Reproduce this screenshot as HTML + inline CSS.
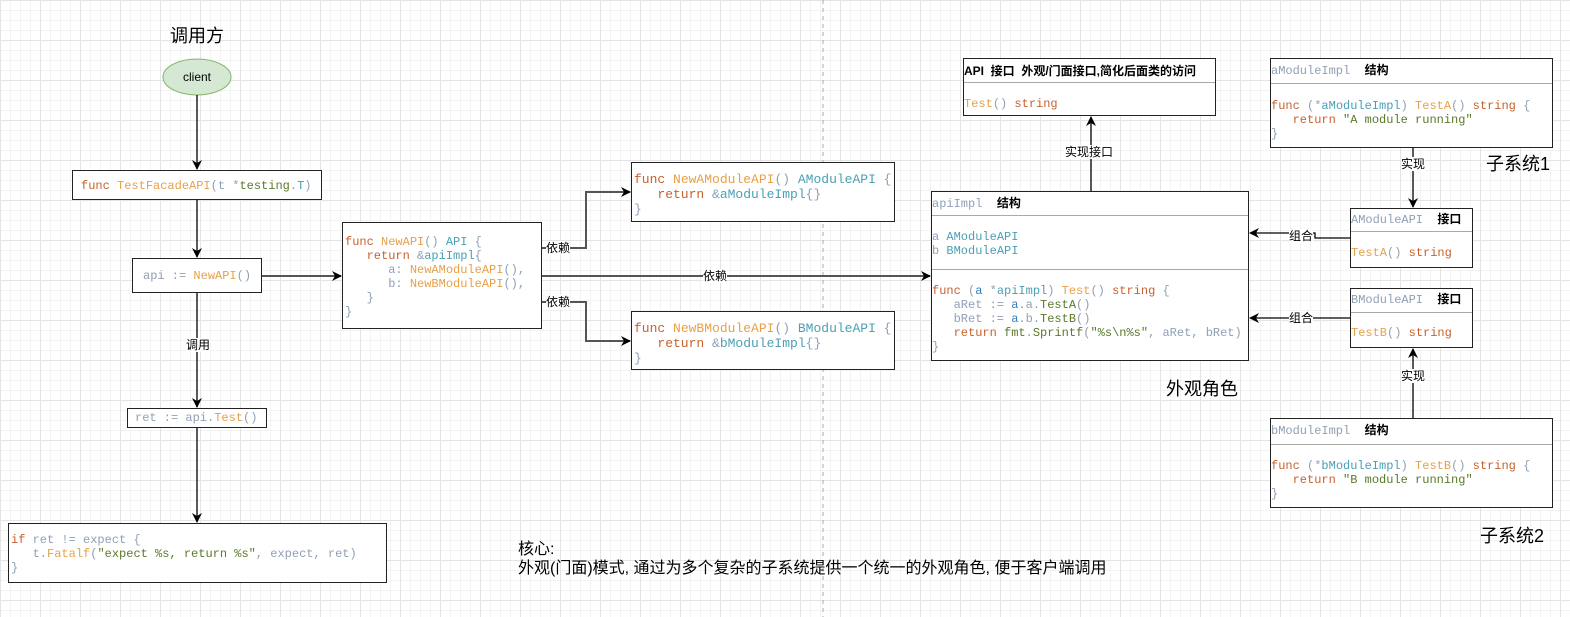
<!DOCTYPE html>
<html><head><meta charset="utf-8"><style>
body{margin:0;width:1570px;height:617px;overflow:hidden;background:#fff;
background-image:linear-gradient(#e4e4e4 1px,transparent 1px),linear-gradient(90deg,#e4e4e4 1px,transparent 1px),linear-gradient(#f3f3f3 1px,transparent 1px),linear-gradient(90deg,#f3f3f3 1px,transparent 1px);
background-size:40px 40px,40px 40px,10px 10px,10px 10px;font-family:"Liberation Sans","Noto Sans CJK SC",sans-serif;position:relative}
.b{position:absolute;border:1.5px solid #222;background:#fff;box-sizing:border-box}
.c{font-family:"Liberation Mono","Noto Sans CJK SC",monospace;font-size:12px;line-height:14px;white-space:pre;color:#8fa0b5}
.k{color:#c7612e}.f{color:#e8a048}.t{color:#4aa0b5}.s{color:#5a7a2a}.v{color:#8fa0b5}.bl{color:#2f7fc0}
.h{font-weight:bold;color:#000;font-family:"Liberation Sans","Noto Sans CJK SC",sans-serif;font-size:12px}
.sep{position:absolute;left:0;right:0;border-top:1.5px solid #aaa}
.l{position:absolute;font-size:12px;background:#fff;line-height:14px}
.big{position:absolute;font-size:18px}
</style></head><body>
<svg style="position:absolute;left:0;top:0" width="1570" height="617">
<defs><marker id="a" markerWidth="10" markerHeight="10" refX="9" refY="5" orient="auto" markerUnits="userSpaceOnUse"><path d="M0,0 L10,5 L0,10 L3,5z" fill="#000"/></marker></defs>
<line x1="823" y1="0" x2="823" y2="617" stroke="#aaa" stroke-dasharray="4,4"/>
<ellipse cx="197" cy="77" rx="34" ry="18" fill="#d5e8d4" stroke="#82b366"/>
<g stroke="#000" stroke-width="1.3" fill="none" marker-end="url(#a)">
<line x1="197" y1="95" x2="197" y2="169"/>
<line x1="197" y1="200" x2="197" y2="257"/>
<line x1="197" y1="293" x2="197" y2="407"/>
<line x1="197" y1="428" x2="197" y2="522"/>
<line x1="262" y1="276" x2="341" y2="276" stroke="#555" stroke-width="2"/>
<line x1="542" y1="276" x2="930" y2="276" stroke="#555" stroke-width="2"/>
<polyline points="542,248 586,248 586,192 630,192" stroke="#555" stroke-width="2"/>
<polyline points="542,302 586,302 586,341 630,341" stroke="#555" stroke-width="2"/>
<line x1="1091" y1="191" x2="1091" y2="117"/>
<line x1="1413" y1="148" x2="1413" y2="207"/>
<line x1="1413" y1="418" x2="1413" y2="349"/>
<polyline points="1353,238 1315,238 1315,233 1250,233"/>
<polyline points="1353,318 1250,318"/>
</g></svg>
<div class="big" style="left:170px;top:22px">调用方</div>
<div style="position:absolute;left:163px;top:70px;width:68px;text-align:center;font-size:12px">client</div>
<div class="b c" style="left:72px;top:170px;width:250px;height:30px;padding:8px 0 0 8px"><span class="k">func</span> <span class="f">TestFacadeAPI</span>(t *<span class="s">testing</span>.<span class="t">T</span>)</div>
<div class="b c" style="left:132px;top:258px;width:130px;height:35px;padding:10px 0 0 10px">api := <span class="f">NewAPI</span>()</div>
<div class="l" style="left:186px;top:338px">调用</div>
<div class="b c" style="left:127px;top:408px;width:140px;height:20px;padding:2px 0 0 7px">ret := api.<span class="f">Test</span>()</div>
<div class="b c" style="left:8px;top:523px;width:379px;height:60px;padding:9px 0 0 2px"><span class="k">if</span> ret != expect {
   t.<span class="f">Fatalf</span>(<span class="s">"expect %s, return %s"</span>, expect, ret)
}</div>
<div class="b c" style="left:342px;top:222px;width:200px;height:107px;padding:12px 0 0 2px"><span class="k">func</span> <span class="f">NewAPI</span>() <span class="t">API</span> {
   <span class="k">return</span> &amp;<span class="t">apiImpl</span>{
      a: <span class="f">NewAModuleAPI</span>(),
      b: <span class="f">NewBModuleAPI</span>(),
   }
}</div>
<div class="l" style="left:546px;top:241px">依赖</div>
<div class="l" style="left:546px;top:295px">依赖</div>
<div class="l" style="left:703px;top:269px">依赖</div>
<div class="b c" style="left:631px;top:162px;width:264px;height:60px;padding:9px 0 0 2px;font-size:13px;line-height:15px"><span class="k">func</span> <span class="f">NewAModuleAPI</span>() <span class="t">AModuleAPI</span> {
   <span class="k">return</span> &amp;<span class="t">aModuleImpl</span>{}
}</div>
<div class="b c" style="left:631px;top:311px;width:264px;height:59px;padding:9px 0 0 2px;font-size:13px;line-height:15px"><span class="k">func</span> <span class="f">NewBModuleAPI</span>() <span class="t">BModuleAPI</span> {
   <span class="k">return</span> &amp;<span class="t">bModuleImpl</span>{}
}</div>
<div class="b c" style="left:963px;top:58px;width:253px;height:58px"><div style="position:absolute;left:0;top:5px"><span class="h">API  接口  外观/门面接口,简化后面类的访问</span></div><div class="sep" style="top:23px"></div><div style="position:absolute;left:0;top:38px"><span class="f">Test</span>() <span class="k">string</span></div></div>
<div class="l" style="left:1065px;top:145px">实现接口</div>
<div class="b c" style="left:931px;top:191px;width:318px;height:170px"><div style="position:absolute;left:0;top:4px">apiImpl  <span class="h">结构</span></div><div class="sep" style="top:23px"></div><div style="position:absolute;left:0;top:38px">a <span class="t">AModuleAPI</span>
b <span class="t">BModuleAPI</span></div><div class="sep" style="top:77px"></div><div style="position:absolute;left:0;top:92px"><span class="k">func</span> (<span class="bl">a</span> *<span class="t">apiImpl</span>) <span class="f">Test</span>() <span class="k">string</span> {
   aRet := <span class="bl">a</span>.a.<span class="s">TestA</span>()
   bRet := <span class="bl">a</span>.b.<span class="s">TestB</span>()
   <span class="k">return</span> <span class="s">fmt</span>.<span class="s">Sprintf</span>(<span class="s">"%s\n%s"</span>, aRet, bRet)
}</div></div>
<div class="big" style="left:1166px;top:375px">外观角色</div>
<div class="b c" style="left:1270px;top:58px;width:283px;height:90px"><div style="position:absolute;left:0;top:4px">aModuleImpl  <span class="h">结构</span></div><div class="sep" style="top:24px"></div><div style="position:absolute;left:0;top:40px"><span class="k">func</span> (*<span class="t">aModuleImpl</span>) <span class="f">TestA</span>() <span class="k">string</span> {
   <span class="k">return</span> <span class="s">"A module running"</span>
}</div></div>
<div class="l" style="left:1401px;top:157px">实现</div>
<div class="big" style="left:1486px;top:150px">子系统1</div>
<div class="b c" style="left:1350px;top:208px;width:123px;height:60px"><div style="position:absolute;left:0;top:3px">AModuleAPI  <span class="h">接口</span></div><div class="sep" style="top:22px"></div><div style="position:absolute;left:0;top:37px"><span class="f">TestA</span>() <span class="k">string</span></div></div>
<div class="l" style="left:1289px;top:229px">组合</div>
<div class="b c" style="left:1350px;top:288px;width:123px;height:60px"><div style="position:absolute;left:0;top:3px">BModuleAPI  <span class="h">接口</span></div><div class="sep" style="top:23px"></div><div style="position:absolute;left:0;top:37px"><span class="f">TestB</span>() <span class="k">string</span></div></div>
<div class="l" style="left:1289px;top:311px">组合</div>
<div class="l" style="left:1401px;top:369px">实现</div>
<div class="b c" style="left:1270px;top:418px;width:283px;height:90px"><div style="position:absolute;left:0;top:4px">bModuleImpl  <span class="h">结构</span></div><div class="sep" style="top:25px"></div><div style="position:absolute;left:0;top:40px"><span class="k">func</span> (*<span class="t">bModuleImpl</span>) <span class="f">TestB</span>() <span class="k">string</span> {
   <span class="k">return</span> <span class="s">"B module running"</span>
}</div></div>
<div class="big" style="left:1480px;top:522px">子系统2</div>
<div style="position:absolute;left:518px;top:540px;font-size:16px;line-height:19px">核心:<br>外观(门面)模式, 通过为多个复杂的子系统提供一个统一的外观角色, 便于客户端调用</div>
</body></html>
